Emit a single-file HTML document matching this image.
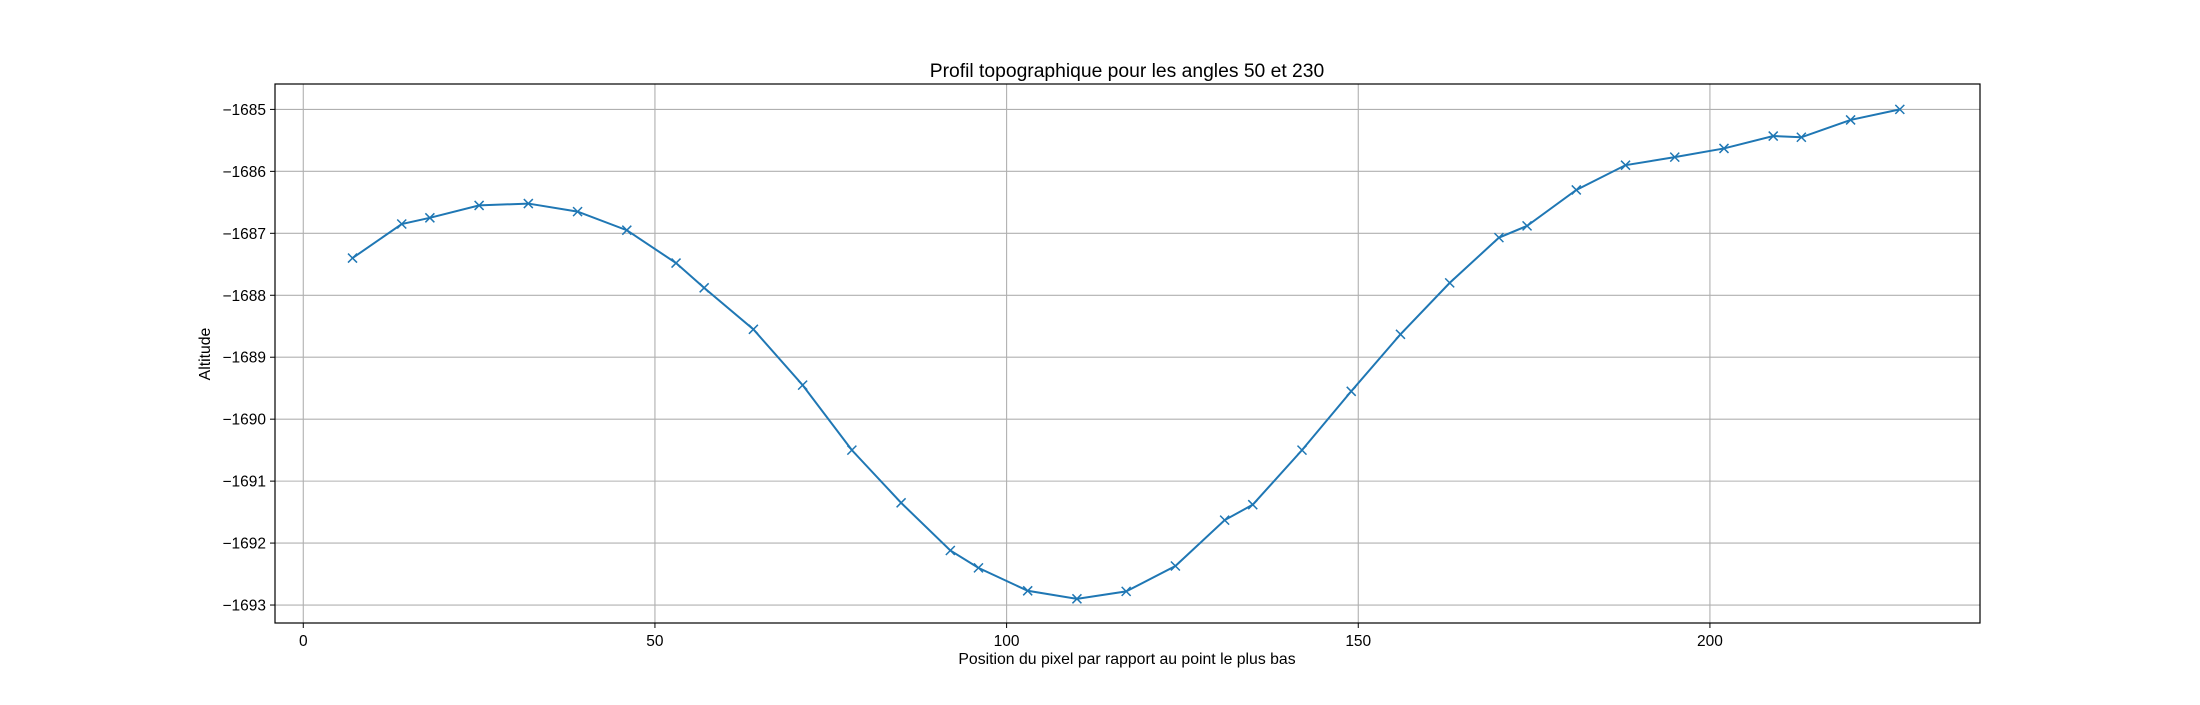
<!DOCTYPE html>
<html><head><meta charset="utf-8"><style>
body{margin:0;background:#fff}
svg{font-family:"Liberation Sans","DejaVu Sans",sans-serif}
</style></head><body>
<svg id="chart" width="2200" height="700" viewBox="0 0 2200 700">
<rect width="2200" height="700" fill="#fff"/>
<g id="grid"></g>
<g id="series"></g>
<rect x="275" y="84" width="1705" height="539" fill="none" stroke="#000" stroke-width="1.2"/>
<g id="ticks"></g>
<text x="1127" y="77" text-anchor="middle" font-size="19.3">Profil topographique pour les angles 50 et 230</text>
<text x="1127" y="664" text-anchor="middle" font-size="15.8">Position du pixel par rapport au point le plus bas</text>
<text transform="translate(210,354) rotate(-90)" text-anchor="middle" font-size="15.8">Altitude</text>
</svg>
<script>
const xs=[7,14,18,25,32,39,46,53,57,64,71,78,85,92,96,103,110,117,124,131,135,142,149,156,163,170,174,181,188,195,202,209,213,220,227];
const ys=[-1687.4,-1686.85,-1686.75,-1686.55,-1686.52,-1686.65,-1686.95,-1687.48,-1687.88,-1688.55,-1689.45,-1690.5,-1691.35,-1692.12,-1692.4,-1692.77,-1692.9,-1692.78,-1692.37,-1691.63,-1691.38,-1690.5,-1689.55,-1688.63,-1687.8,-1687.07,-1686.88,-1686.3,-1685.9,-1685.77,-1685.63,-1685.43,-1685.45,-1685.17,-1685.0];
const xTicks=[0,50,100,150,200];
const yTicks=[-1685,-1686,-1687,-1688,-1689,-1690,-1691,-1692,-1693];
const X0=275,X1=1980,Y0=84,Y1=623;
const xMin=-4.02,xMax=238.4,yMin=-1693.29,yMax=-1684.59;
const sx=v=>X0+(v-xMin)/(xMax-xMin)*(X1-X0);
const sy=v=>Y1-(v-yMin)/(yMax-yMin)*(Y1-Y0);
const NS='http://www.w3.org/2000/svg';
function mk(t,a,p){const e=document.createElementNS(NS,t);for(const k in a)e.setAttribute(k,a[k]);p.appendChild(e);return e;}
const grid=document.getElementById('grid'),ticks=document.getElementById('ticks'),ser=document.getElementById('series');
xTicks.forEach(t=>{const x=sx(t);
 const g=mk('line',{x1:x,x2:x,y1:Y0,y2:Y1,stroke:'#b0b0b0','stroke-width':1.1},grid);
 
 
 mk('line',{x1:x,x2:x,y1:Y1,y2:Y1+5,stroke:'#000'},ticks);
 const l=mk('text',{x:x,y:Y1+23,'text-anchor':'middle','font-size':15.5},ticks);l.textContent=t;
 
 
});
yTicks.forEach(t=>{const y=sy(t);
 const g=mk('line',{x1:X0,x2:X1,y1:y,y2:y,stroke:'#b0b0b0','stroke-width':1.1},grid);
 
 
 mk('line',{x1:X0-5,x2:X0,y1:y,y2:y,stroke:'#000'},ticks);
 const l=mk('text',{x:X0-9,y:y+5.5,'text-anchor':'end','font-size':15.5},ticks);l.textContent='\u2212'+Math.abs(t);
 
 
});
const pts=xs.map((x,i)=>sx(x)+','+sy(ys[i])).join(' ');
const pl=mk('polyline',{points:pts,fill:'none',stroke:'#1f77b4','stroke-width':2},ser);


xs.forEach((x,i)=>{const cx=sx(x),cy=sy(ys[i]),d=4.5;
 const m=mk('path',{d:`M${cx-d},${cy-d}L${cx+d},${cy+d}M${cx-d},${cy+d}L${cx+d},${cy-d}`,stroke:'#1f77b4','stroke-width':1.5},ser);
 
 
});
</script>
</body></html>
